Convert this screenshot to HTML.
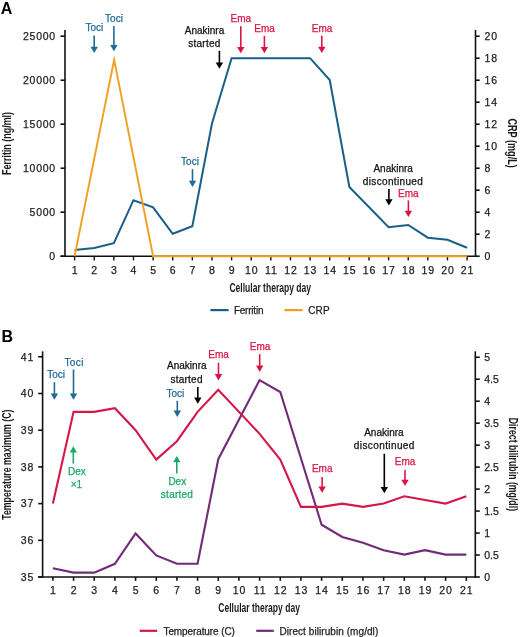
<!DOCTYPE html>
<html><head><meta charset="utf-8"><style>
html,body{margin:0;padding:0;background:#fff;}
svg{display:block;font-family:"Liberation Sans", sans-serif;will-change:transform;}
.ttl{fill:#1a1a1a;font-weight:bold;}
</style></head><body>
<svg width="520" height="637" viewBox="0 0 520 637">
<rect width="520" height="637" fill="#fff"/>
<text x="0.80" y="13.80" font-size="16" text-anchor="start" fill="#000" font-weight="bold">A</text>
<line x1="65.00" y1="30.00" x2="65.00" y2="257.00" stroke="#111" stroke-width="1.6"/>
<line x1="475.50" y1="30.00" x2="475.50" y2="257.00" stroke="#111" stroke-width="1.6"/>
<line x1="60.50" y1="256.20" x2="476.30" y2="256.20" stroke="#111" stroke-width="1.6"/>
<line x1="60.50" y1="256.20" x2="65.00" y2="256.20" stroke="#111" stroke-width="1.6"/>
<text x="55.20" y="260.00" font-size="10.5" text-anchor="end" fill="#222" font-weight="normal" stroke="#222" stroke-width="0.25">0</text>
<line x1="60.50" y1="212.20" x2="65.00" y2="212.20" stroke="#111" stroke-width="1.6"/>
<text x="55.20" y="216.00" font-size="10.5" text-anchor="end" fill="#222" font-weight="normal" stroke="#222" stroke-width="0.25" textLength="25.61" lengthAdjust="spacing">5000</text>
<line x1="60.50" y1="168.20" x2="65.00" y2="168.20" stroke="#111" stroke-width="1.6"/>
<text x="55.20" y="172.00" font-size="10.5" text-anchor="end" fill="#222" font-weight="normal" stroke="#222" stroke-width="0.25" textLength="32.20" lengthAdjust="spacing">10000</text>
<line x1="60.50" y1="124.20" x2="65.00" y2="124.20" stroke="#111" stroke-width="1.6"/>
<text x="55.20" y="128.00" font-size="10.5" text-anchor="end" fill="#222" font-weight="normal" stroke="#222" stroke-width="0.25" textLength="32.20" lengthAdjust="spacing">15000</text>
<line x1="60.50" y1="80.20" x2="65.00" y2="80.20" stroke="#111" stroke-width="1.6"/>
<text x="55.20" y="84.00" font-size="10.5" text-anchor="end" fill="#222" font-weight="normal" stroke="#222" stroke-width="0.25" textLength="32.20" lengthAdjust="spacing">20000</text>
<line x1="60.50" y1="36.20" x2="65.00" y2="36.20" stroke="#111" stroke-width="1.6"/>
<text x="55.20" y="40.00" font-size="10.5" text-anchor="end" fill="#222" font-weight="normal" stroke="#222" stroke-width="0.25" textLength="32.20" lengthAdjust="spacing">25000</text>
<line x1="475.50" y1="256.20" x2="479.70" y2="256.20" stroke="#111" stroke-width="1.6"/>
<text x="484.60" y="260.00" font-size="10.5" text-anchor="start" fill="#222" font-weight="normal" stroke="#222" stroke-width="0.25">0</text>
<line x1="475.50" y1="234.20" x2="479.70" y2="234.20" stroke="#111" stroke-width="1.6"/>
<text x="484.60" y="238.00" font-size="10.5" text-anchor="start" fill="#222" font-weight="normal" stroke="#222" stroke-width="0.25">2</text>
<line x1="475.50" y1="212.20" x2="479.70" y2="212.20" stroke="#111" stroke-width="1.6"/>
<text x="484.60" y="216.00" font-size="10.5" text-anchor="start" fill="#222" font-weight="normal" stroke="#222" stroke-width="0.25">4</text>
<line x1="475.50" y1="190.20" x2="479.70" y2="190.20" stroke="#111" stroke-width="1.6"/>
<text x="484.60" y="194.00" font-size="10.5" text-anchor="start" fill="#222" font-weight="normal" stroke="#222" stroke-width="0.25">6</text>
<line x1="475.50" y1="168.20" x2="479.70" y2="168.20" stroke="#111" stroke-width="1.6"/>
<text x="484.60" y="172.00" font-size="10.5" text-anchor="start" fill="#222" font-weight="normal" stroke="#222" stroke-width="0.25">8</text>
<line x1="475.50" y1="146.20" x2="479.70" y2="146.20" stroke="#111" stroke-width="1.6"/>
<text x="484.60" y="150.00" font-size="10.5" text-anchor="start" fill="#222" font-weight="normal" stroke="#222" stroke-width="0.25" textLength="12.58" lengthAdjust="spacing">10</text>
<line x1="475.50" y1="124.20" x2="479.70" y2="124.20" stroke="#111" stroke-width="1.6"/>
<text x="484.60" y="128.00" font-size="10.5" text-anchor="start" fill="#222" font-weight="normal" stroke="#222" stroke-width="0.25" textLength="12.58" lengthAdjust="spacing">12</text>
<line x1="475.50" y1="102.20" x2="479.70" y2="102.20" stroke="#111" stroke-width="1.6"/>
<text x="484.60" y="106.00" font-size="10.5" text-anchor="start" fill="#222" font-weight="normal" stroke="#222" stroke-width="0.25" textLength="12.58" lengthAdjust="spacing">14</text>
<line x1="475.50" y1="80.20" x2="479.70" y2="80.20" stroke="#111" stroke-width="1.6"/>
<text x="484.60" y="84.00" font-size="10.5" text-anchor="start" fill="#222" font-weight="normal" stroke="#222" stroke-width="0.25" textLength="12.58" lengthAdjust="spacing">16</text>
<line x1="475.50" y1="58.20" x2="479.70" y2="58.20" stroke="#111" stroke-width="1.6"/>
<text x="484.60" y="62.00" font-size="10.5" text-anchor="start" fill="#222" font-weight="normal" stroke="#222" stroke-width="0.25" textLength="12.58" lengthAdjust="spacing">18</text>
<line x1="475.50" y1="36.20" x2="479.70" y2="36.20" stroke="#111" stroke-width="1.6"/>
<text x="484.60" y="40.00" font-size="10.5" text-anchor="start" fill="#222" font-weight="normal" stroke="#222" stroke-width="0.25" textLength="12.58" lengthAdjust="spacing">20</text>
<line x1="74.60" y1="256.20" x2="74.60" y2="260.40" stroke="#111" stroke-width="1.4"/>
<text x="74.60" y="273.50" font-size="10.5" text-anchor="middle" fill="#222" font-weight="normal" stroke="#222" stroke-width="0.25">1</text>
<line x1="94.22" y1="256.20" x2="94.22" y2="260.40" stroke="#111" stroke-width="1.4"/>
<text x="94.22" y="273.50" font-size="10.5" text-anchor="middle" fill="#222" font-weight="normal" stroke="#222" stroke-width="0.25">2</text>
<line x1="113.85" y1="256.20" x2="113.85" y2="260.40" stroke="#111" stroke-width="1.4"/>
<text x="113.85" y="273.50" font-size="10.5" text-anchor="middle" fill="#222" font-weight="normal" stroke="#222" stroke-width="0.25">3</text>
<line x1="133.47" y1="256.20" x2="133.47" y2="260.40" stroke="#111" stroke-width="1.4"/>
<text x="133.47" y="273.50" font-size="10.5" text-anchor="middle" fill="#222" font-weight="normal" stroke="#222" stroke-width="0.25">4</text>
<line x1="153.10" y1="256.20" x2="153.10" y2="260.40" stroke="#111" stroke-width="1.4"/>
<text x="153.10" y="273.50" font-size="10.5" text-anchor="middle" fill="#222" font-weight="normal" stroke="#222" stroke-width="0.25">5</text>
<line x1="172.72" y1="256.20" x2="172.72" y2="260.40" stroke="#111" stroke-width="1.4"/>
<text x="172.72" y="273.50" font-size="10.5" text-anchor="middle" fill="#222" font-weight="normal" stroke="#222" stroke-width="0.25">6</text>
<line x1="192.35" y1="256.20" x2="192.35" y2="260.40" stroke="#111" stroke-width="1.4"/>
<text x="192.35" y="273.50" font-size="10.5" text-anchor="middle" fill="#222" font-weight="normal" stroke="#222" stroke-width="0.25">7</text>
<line x1="211.97" y1="256.20" x2="211.97" y2="260.40" stroke="#111" stroke-width="1.4"/>
<text x="211.97" y="273.50" font-size="10.5" text-anchor="middle" fill="#222" font-weight="normal" stroke="#222" stroke-width="0.25">8</text>
<line x1="231.60" y1="256.20" x2="231.60" y2="260.40" stroke="#111" stroke-width="1.4"/>
<text x="231.60" y="273.50" font-size="10.5" text-anchor="middle" fill="#222" font-weight="normal" stroke="#222" stroke-width="0.25">9</text>
<line x1="251.22" y1="256.20" x2="251.22" y2="260.40" stroke="#111" stroke-width="1.4"/>
<text x="251.22" y="273.50" font-size="10.5" text-anchor="middle" fill="#222" font-weight="normal" stroke="#222" stroke-width="0.25" textLength="12.58" lengthAdjust="spacing">10</text>
<line x1="270.85" y1="256.20" x2="270.85" y2="260.40" stroke="#111" stroke-width="1.4"/>
<text x="270.85" y="273.50" font-size="10.5" text-anchor="middle" fill="#222" font-weight="normal" stroke="#222" stroke-width="0.25" textLength="11.80" lengthAdjust="spacing">11</text>
<line x1="290.48" y1="256.20" x2="290.48" y2="260.40" stroke="#111" stroke-width="1.4"/>
<text x="290.48" y="273.50" font-size="10.5" text-anchor="middle" fill="#222" font-weight="normal" stroke="#222" stroke-width="0.25" textLength="12.58" lengthAdjust="spacing">12</text>
<line x1="310.10" y1="256.20" x2="310.10" y2="260.40" stroke="#111" stroke-width="1.4"/>
<text x="310.10" y="273.50" font-size="10.5" text-anchor="middle" fill="#222" font-weight="normal" stroke="#222" stroke-width="0.25" textLength="12.58" lengthAdjust="spacing">13</text>
<line x1="329.73" y1="256.20" x2="329.73" y2="260.40" stroke="#111" stroke-width="1.4"/>
<text x="329.73" y="273.50" font-size="10.5" text-anchor="middle" fill="#222" font-weight="normal" stroke="#222" stroke-width="0.25" textLength="12.58" lengthAdjust="spacing">14</text>
<line x1="349.35" y1="256.20" x2="349.35" y2="260.40" stroke="#111" stroke-width="1.4"/>
<text x="349.35" y="273.50" font-size="10.5" text-anchor="middle" fill="#222" font-weight="normal" stroke="#222" stroke-width="0.25" textLength="12.58" lengthAdjust="spacing">15</text>
<line x1="368.98" y1="256.20" x2="368.98" y2="260.40" stroke="#111" stroke-width="1.4"/>
<text x="368.98" y="273.50" font-size="10.5" text-anchor="middle" fill="#222" font-weight="normal" stroke="#222" stroke-width="0.25" textLength="12.58" lengthAdjust="spacing">16</text>
<line x1="388.60" y1="256.20" x2="388.60" y2="260.40" stroke="#111" stroke-width="1.4"/>
<text x="388.60" y="273.50" font-size="10.5" text-anchor="middle" fill="#222" font-weight="normal" stroke="#222" stroke-width="0.25" textLength="12.58" lengthAdjust="spacing">17</text>
<line x1="408.23" y1="256.20" x2="408.23" y2="260.40" stroke="#111" stroke-width="1.4"/>
<text x="408.23" y="273.50" font-size="10.5" text-anchor="middle" fill="#222" font-weight="normal" stroke="#222" stroke-width="0.25" textLength="12.58" lengthAdjust="spacing">18</text>
<line x1="427.85" y1="256.20" x2="427.85" y2="260.40" stroke="#111" stroke-width="1.4"/>
<text x="427.85" y="273.50" font-size="10.5" text-anchor="middle" fill="#222" font-weight="normal" stroke="#222" stroke-width="0.25" textLength="12.58" lengthAdjust="spacing">19</text>
<line x1="447.48" y1="256.20" x2="447.48" y2="260.40" stroke="#111" stroke-width="1.4"/>
<text x="447.48" y="273.50" font-size="10.5" text-anchor="middle" fill="#222" font-weight="normal" stroke="#222" stroke-width="0.25" textLength="12.58" lengthAdjust="spacing">20</text>
<line x1="467.10" y1="256.20" x2="467.10" y2="260.40" stroke="#111" stroke-width="1.4"/>
<text x="467.10" y="273.50" font-size="10.5" text-anchor="middle" fill="#222" font-weight="normal" stroke="#222" stroke-width="0.25" textLength="12.58" lengthAdjust="spacing">21</text>
<text x="270.2" y="291.8" font-size="13" text-anchor="middle" class="ttl" textLength="81.6" lengthAdjust="spacingAndGlyphs">Cellular therapy day</text>
<text transform="translate(11.3,143.45) rotate(-90)" font-size="13" text-anchor="middle" class="ttl" textLength="63" lengthAdjust="spacingAndGlyphs">Ferritin (ng/ml)</text>
<text transform="translate(508.3,143.1) rotate(90)" font-size="13" text-anchor="middle" class="ttl" textLength="49.4" lengthAdjust="spacingAndGlyphs">CRP (mg/L)</text>
<polyline points="74.60,250.00 94.22,248.00 113.85,243.10 133.47,200.20 153.10,207.30 172.72,233.80 192.35,226.30 211.97,123.50 231.60,58.20 251.22,58.20 270.85,58.20 290.48,58.20 310.10,58.20 329.73,80.00 349.35,186.90 388.60,227.30 408.23,225.00 427.85,237.70 447.48,239.80 467.10,247.80" fill="none" stroke="#1a5f86" stroke-width="2.0" stroke-linejoin="miter" stroke-miterlimit="4"/>
<polyline points="74.60,256.20 114.15,59.85 153.10,256.20 467.10,256.20" fill="none" stroke="#f0a020" stroke-width="1.9" stroke-linejoin="miter" stroke-miterlimit="10"/>
<text x="94.40" y="31.40" font-size="10" text-anchor="middle" fill="#1f6a96" font-weight="normal" stroke="#1f6a96" stroke-width="0.25">Toci</text>
<line x1="94.20" y1="35.60" x2="94.20" y2="47.30" stroke="#1f6a96" stroke-width="1.6"/>
<polygon points="90.50,46.80 97.90,46.80 94.20,53.10" fill="#1f6a96"/>
<text x="114.00" y="22.10" font-size="10" text-anchor="middle" fill="#1f6a96" font-weight="normal" stroke="#1f6a96" stroke-width="0.25">Toci</text>
<line x1="113.90" y1="26.00" x2="113.90" y2="45.40" stroke="#1f6a96" stroke-width="1.6"/>
<polygon points="110.20,44.90 117.60,44.90 113.90,51.20" fill="#1f6a96"/>
<text x="204.50" y="33.70" font-size="10" text-anchor="middle" fill="#111" font-weight="normal" stroke="#111" stroke-width="0.25">Anakinra</text>
<text x="204.30" y="47.10" font-size="10" text-anchor="middle" fill="#111" font-weight="normal" stroke="#111" stroke-width="0.25" textLength="32.07" lengthAdjust="spacing">started</text>
<line x1="219.40" y1="50.80" x2="219.40" y2="62.90" stroke="#000" stroke-width="1.6"/>
<polygon points="215.70,62.40 223.10,62.40 219.40,68.70" fill="#000"/>
<text x="240.80" y="22.30" font-size="10" text-anchor="middle" fill="#dc1443" font-weight="normal" stroke="#dc1443" stroke-width="0.25">Ema</text>
<line x1="240.80" y1="26.30" x2="240.80" y2="47.40" stroke="#dc1443" stroke-width="1.6"/>
<polygon points="237.10,46.90 244.50,46.90 240.80,53.20" fill="#dc1443"/>
<text x="264.60" y="32.10" font-size="10" text-anchor="middle" fill="#dc1443" font-weight="normal" stroke="#dc1443" stroke-width="0.25">Ema</text>
<line x1="264.40" y1="35.90" x2="264.40" y2="47.40" stroke="#dc1443" stroke-width="1.6"/>
<polygon points="260.70,46.90 268.10,46.90 264.40,53.20" fill="#dc1443"/>
<text x="322.00" y="31.80" font-size="10" text-anchor="middle" fill="#dc1443" font-weight="normal" stroke="#dc1443" stroke-width="0.25">Ema</text>
<line x1="321.80" y1="35.80" x2="321.80" y2="47.20" stroke="#dc1443" stroke-width="1.6"/>
<polygon points="318.10,46.70 325.50,46.70 321.80,53.00" fill="#dc1443"/>
<text x="190.00" y="165.20" font-size="10" text-anchor="middle" fill="#1f6a96" font-weight="normal" stroke="#1f6a96" stroke-width="0.25">Toci</text>
<line x1="192.50" y1="169.20" x2="192.50" y2="181.20" stroke="#1f6a96" stroke-width="1.6"/>
<polygon points="188.80,180.70 196.20,180.70 192.50,187.00" fill="#1f6a96"/>
<text x="393.20" y="171.60" font-size="10" text-anchor="middle" fill="#111" font-weight="normal" stroke="#111" stroke-width="0.25">Anakinra</text>
<text x="392.80" y="184.60" font-size="10" text-anchor="middle" fill="#111" font-weight="normal" stroke="#111" stroke-width="0.25" textLength="60.00" lengthAdjust="spacing">discontinued</text>
<line x1="388.90" y1="188.90" x2="388.90" y2="199.70" stroke="#000" stroke-width="1.6"/>
<polygon points="385.20,199.20 392.60,199.20 388.90,205.50" fill="#000"/>
<text x="408.40" y="197.10" font-size="10" text-anchor="middle" fill="#dc1443" font-weight="normal" stroke="#dc1443" stroke-width="0.25">Ema</text>
<line x1="408.40" y1="200.40" x2="408.40" y2="211.20" stroke="#dc1443" stroke-width="1.6"/>
<polygon points="404.70,210.70 412.10,210.70 408.40,217.00" fill="#dc1443"/>
<line x1="210.40" y1="310.10" x2="228.60" y2="310.10" stroke="#1a5f86" stroke-width="2.2"/>
<text x="233.90" y="313.70" font-size="10" text-anchor="start" fill="#222" font-weight="normal" stroke="#222" stroke-width="0.25" textLength="29.57" lengthAdjust="spacing">Ferritin</text>
<line x1="284.40" y1="310.10" x2="302.60" y2="310.10" stroke="#f0a020" stroke-width="2.2"/>
<text x="308.20" y="313.60" font-size="10" text-anchor="start" fill="#222" font-weight="normal" stroke="#222" stroke-width="0.25" textLength="21.51" lengthAdjust="spacing">CRP</text>
<text x="1.50" y="341.80" font-size="16" text-anchor="start" fill="#000" font-weight="bold">B</text>
<line x1="42.60" y1="351.30" x2="42.60" y2="577.80" stroke="#111" stroke-width="1.6"/>
<line x1="475.30" y1="351.30" x2="475.30" y2="577.80" stroke="#111" stroke-width="1.6"/>
<line x1="38.20" y1="577.00" x2="476.10" y2="577.00" stroke="#111" stroke-width="1.6"/>
<line x1="38.20" y1="577.00" x2="42.60" y2="577.00" stroke="#111" stroke-width="1.6"/>
<text x="33.40" y="580.80" font-size="10.5" text-anchor="end" fill="#222" font-weight="normal" stroke="#222" stroke-width="0.25" textLength="12.58" lengthAdjust="spacing">35</text>
<line x1="38.20" y1="540.30" x2="42.60" y2="540.30" stroke="#111" stroke-width="1.6"/>
<text x="33.40" y="544.10" font-size="10.5" text-anchor="end" fill="#222" font-weight="normal" stroke="#222" stroke-width="0.25" textLength="12.58" lengthAdjust="spacing">36</text>
<line x1="38.20" y1="503.60" x2="42.60" y2="503.60" stroke="#111" stroke-width="1.6"/>
<text x="33.40" y="507.40" font-size="10.5" text-anchor="end" fill="#222" font-weight="normal" stroke="#222" stroke-width="0.25" textLength="12.58" lengthAdjust="spacing">37</text>
<line x1="38.20" y1="466.90" x2="42.60" y2="466.90" stroke="#111" stroke-width="1.6"/>
<text x="33.40" y="470.70" font-size="10.5" text-anchor="end" fill="#222" font-weight="normal" stroke="#222" stroke-width="0.25" textLength="12.58" lengthAdjust="spacing">38</text>
<line x1="38.20" y1="430.20" x2="42.60" y2="430.20" stroke="#111" stroke-width="1.6"/>
<text x="33.40" y="434.00" font-size="10.5" text-anchor="end" fill="#222" font-weight="normal" stroke="#222" stroke-width="0.25" textLength="12.58" lengthAdjust="spacing">39</text>
<line x1="38.20" y1="393.50" x2="42.60" y2="393.50" stroke="#111" stroke-width="1.6"/>
<text x="33.40" y="397.30" font-size="10.5" text-anchor="end" fill="#222" font-weight="normal" stroke="#222" stroke-width="0.25" textLength="12.58" lengthAdjust="spacing">40</text>
<line x1="38.20" y1="356.80" x2="42.60" y2="356.80" stroke="#111" stroke-width="1.6"/>
<text x="33.40" y="360.60" font-size="10.5" text-anchor="end" fill="#222" font-weight="normal" stroke="#222" stroke-width="0.25" textLength="12.58" lengthAdjust="spacing">41</text>
<line x1="475.30" y1="577.00" x2="479.80" y2="577.00" stroke="#111" stroke-width="1.6"/>
<text x="484.20" y="580.80" font-size="10.5" text-anchor="start" fill="#222" font-weight="normal" stroke="#222" stroke-width="0.25">0</text>
<line x1="475.30" y1="555.02" x2="479.80" y2="555.02" stroke="#111" stroke-width="1.6"/>
<text x="484.20" y="558.82" font-size="10.5" text-anchor="start" fill="#222" font-weight="normal" stroke="#222" stroke-width="0.25">0.5</text>
<line x1="475.30" y1="533.05" x2="479.80" y2="533.05" stroke="#111" stroke-width="1.6"/>
<text x="484.20" y="536.85" font-size="10.5" text-anchor="start" fill="#222" font-weight="normal" stroke="#222" stroke-width="0.25">1</text>
<line x1="475.30" y1="511.07" x2="479.80" y2="511.07" stroke="#111" stroke-width="1.6"/>
<text x="484.20" y="514.88" font-size="10.5" text-anchor="start" fill="#222" font-weight="normal" stroke="#222" stroke-width="0.25">1.5</text>
<line x1="475.30" y1="489.10" x2="479.80" y2="489.10" stroke="#111" stroke-width="1.6"/>
<text x="484.20" y="492.90" font-size="10.5" text-anchor="start" fill="#222" font-weight="normal" stroke="#222" stroke-width="0.25">2</text>
<line x1="475.30" y1="467.12" x2="479.80" y2="467.12" stroke="#111" stroke-width="1.6"/>
<text x="484.20" y="470.93" font-size="10.5" text-anchor="start" fill="#222" font-weight="normal" stroke="#222" stroke-width="0.25">2.5</text>
<line x1="475.30" y1="445.15" x2="479.80" y2="445.15" stroke="#111" stroke-width="1.6"/>
<text x="484.20" y="448.95" font-size="10.5" text-anchor="start" fill="#222" font-weight="normal" stroke="#222" stroke-width="0.25">3</text>
<line x1="475.30" y1="423.17" x2="479.80" y2="423.17" stroke="#111" stroke-width="1.6"/>
<text x="484.20" y="426.97" font-size="10.5" text-anchor="start" fill="#222" font-weight="normal" stroke="#222" stroke-width="0.25">3.5</text>
<line x1="475.30" y1="401.20" x2="479.80" y2="401.20" stroke="#111" stroke-width="1.6"/>
<text x="484.20" y="405.00" font-size="10.5" text-anchor="start" fill="#222" font-weight="normal" stroke="#222" stroke-width="0.25">4</text>
<line x1="475.30" y1="379.23" x2="479.80" y2="379.23" stroke="#111" stroke-width="1.6"/>
<text x="484.20" y="383.03" font-size="10.5" text-anchor="start" fill="#222" font-weight="normal" stroke="#222" stroke-width="0.25">4.5</text>
<line x1="475.30" y1="357.25" x2="479.80" y2="357.25" stroke="#111" stroke-width="1.6"/>
<text x="484.20" y="361.05" font-size="10.5" text-anchor="start" fill="#222" font-weight="normal" stroke="#222" stroke-width="0.25">5</text>
<line x1="52.90" y1="577.00" x2="52.90" y2="580.80" stroke="#111" stroke-width="1.6"/>
<text x="52.90" y="593.60" font-size="10.5" text-anchor="middle" fill="#222" font-weight="normal" stroke="#222" stroke-width="0.25">1</text>
<line x1="73.57" y1="577.00" x2="73.57" y2="580.80" stroke="#111" stroke-width="1.6"/>
<text x="73.57" y="593.60" font-size="10.5" text-anchor="middle" fill="#222" font-weight="normal" stroke="#222" stroke-width="0.25">2</text>
<line x1="94.24" y1="577.00" x2="94.24" y2="580.80" stroke="#111" stroke-width="1.6"/>
<text x="94.24" y="593.60" font-size="10.5" text-anchor="middle" fill="#222" font-weight="normal" stroke="#222" stroke-width="0.25">3</text>
<line x1="114.91" y1="577.00" x2="114.91" y2="580.80" stroke="#111" stroke-width="1.6"/>
<text x="114.91" y="593.60" font-size="10.5" text-anchor="middle" fill="#222" font-weight="normal" stroke="#222" stroke-width="0.25">4</text>
<line x1="135.58" y1="577.00" x2="135.58" y2="580.80" stroke="#111" stroke-width="1.6"/>
<text x="135.58" y="593.60" font-size="10.5" text-anchor="middle" fill="#222" font-weight="normal" stroke="#222" stroke-width="0.25">5</text>
<line x1="156.25" y1="577.00" x2="156.25" y2="580.80" stroke="#111" stroke-width="1.6"/>
<text x="156.25" y="593.60" font-size="10.5" text-anchor="middle" fill="#222" font-weight="normal" stroke="#222" stroke-width="0.25">6</text>
<line x1="176.92" y1="577.00" x2="176.92" y2="580.80" stroke="#111" stroke-width="1.6"/>
<text x="176.92" y="593.60" font-size="10.5" text-anchor="middle" fill="#222" font-weight="normal" stroke="#222" stroke-width="0.25">7</text>
<line x1="197.59" y1="577.00" x2="197.59" y2="580.80" stroke="#111" stroke-width="1.6"/>
<text x="197.59" y="593.60" font-size="10.5" text-anchor="middle" fill="#222" font-weight="normal" stroke="#222" stroke-width="0.25">8</text>
<line x1="218.26" y1="577.00" x2="218.26" y2="580.80" stroke="#111" stroke-width="1.6"/>
<text x="218.26" y="593.60" font-size="10.5" text-anchor="middle" fill="#222" font-weight="normal" stroke="#222" stroke-width="0.25">9</text>
<line x1="238.93" y1="577.00" x2="238.93" y2="580.80" stroke="#111" stroke-width="1.6"/>
<text x="238.93" y="593.60" font-size="10.5" text-anchor="middle" fill="#222" font-weight="normal" stroke="#222" stroke-width="0.25" textLength="12.58" lengthAdjust="spacing">10</text>
<line x1="259.60" y1="577.00" x2="259.60" y2="580.80" stroke="#111" stroke-width="1.6"/>
<text x="259.60" y="593.60" font-size="10.5" text-anchor="middle" fill="#222" font-weight="normal" stroke="#222" stroke-width="0.25" textLength="11.80" lengthAdjust="spacing">11</text>
<line x1="280.27" y1="577.00" x2="280.27" y2="580.80" stroke="#111" stroke-width="1.6"/>
<text x="280.27" y="593.60" font-size="10.5" text-anchor="middle" fill="#222" font-weight="normal" stroke="#222" stroke-width="0.25" textLength="12.58" lengthAdjust="spacing">12</text>
<line x1="300.94" y1="577.00" x2="300.94" y2="580.80" stroke="#111" stroke-width="1.6"/>
<text x="300.94" y="593.60" font-size="10.5" text-anchor="middle" fill="#222" font-weight="normal" stroke="#222" stroke-width="0.25" textLength="12.58" lengthAdjust="spacing">13</text>
<line x1="321.61" y1="577.00" x2="321.61" y2="580.80" stroke="#111" stroke-width="1.6"/>
<text x="321.61" y="593.60" font-size="10.5" text-anchor="middle" fill="#222" font-weight="normal" stroke="#222" stroke-width="0.25" textLength="12.58" lengthAdjust="spacing">14</text>
<line x1="342.28" y1="577.00" x2="342.28" y2="580.80" stroke="#111" stroke-width="1.6"/>
<text x="342.28" y="593.60" font-size="10.5" text-anchor="middle" fill="#222" font-weight="normal" stroke="#222" stroke-width="0.25" textLength="12.58" lengthAdjust="spacing">15</text>
<line x1="362.95" y1="577.00" x2="362.95" y2="580.80" stroke="#111" stroke-width="1.6"/>
<text x="362.95" y="593.60" font-size="10.5" text-anchor="middle" fill="#222" font-weight="normal" stroke="#222" stroke-width="0.25" textLength="12.58" lengthAdjust="spacing">16</text>
<line x1="383.62" y1="577.00" x2="383.62" y2="580.80" stroke="#111" stroke-width="1.6"/>
<text x="383.62" y="593.60" font-size="10.5" text-anchor="middle" fill="#222" font-weight="normal" stroke="#222" stroke-width="0.25" textLength="12.58" lengthAdjust="spacing">17</text>
<line x1="404.29" y1="577.00" x2="404.29" y2="580.80" stroke="#111" stroke-width="1.6"/>
<text x="404.29" y="593.60" font-size="10.5" text-anchor="middle" fill="#222" font-weight="normal" stroke="#222" stroke-width="0.25" textLength="12.58" lengthAdjust="spacing">18</text>
<line x1="424.96" y1="577.00" x2="424.96" y2="580.80" stroke="#111" stroke-width="1.6"/>
<text x="424.96" y="593.60" font-size="10.5" text-anchor="middle" fill="#222" font-weight="normal" stroke="#222" stroke-width="0.25" textLength="12.58" lengthAdjust="spacing">19</text>
<line x1="445.63" y1="577.00" x2="445.63" y2="580.80" stroke="#111" stroke-width="1.6"/>
<text x="445.63" y="593.60" font-size="10.5" text-anchor="middle" fill="#222" font-weight="normal" stroke="#222" stroke-width="0.25" textLength="12.58" lengthAdjust="spacing">20</text>
<line x1="466.30" y1="577.00" x2="466.30" y2="580.80" stroke="#111" stroke-width="1.6"/>
<text x="466.30" y="593.60" font-size="10.5" text-anchor="middle" fill="#222" font-weight="normal" stroke="#222" stroke-width="0.25" textLength="12.58" lengthAdjust="spacing">21</text>
<text x="259.1" y="612.2" font-size="13" text-anchor="middle" class="ttl" textLength="81.6" lengthAdjust="spacingAndGlyphs">Cellular therapy day</text>
<text transform="translate(11.1,464.7) rotate(-90)" font-size="13" text-anchor="middle" class="ttl" textLength="110.2" lengthAdjust="spacingAndGlyphs">Temperature maximum (C)</text>
<text transform="translate(508.7,464.4) rotate(90)" font-size="13" text-anchor="middle" class="ttl" textLength="93.3" lengthAdjust="spacingAndGlyphs">Direct bilirubin (mg/dl)</text>
<polyline points="52.90,568.21 73.57,572.61 94.24,572.61 114.91,563.82 135.58,533.49 156.25,555.46 176.92,563.82 197.59,563.82 218.26,459.21 259.60,380.10 280.27,391.97 321.61,524.70 342.28,537.01 362.95,542.72 383.62,550.19 404.29,554.59 424.96,550.19 445.63,554.59 466.30,554.59" fill="none" stroke="#722a7a" stroke-width="2.1" stroke-linejoin="miter" stroke-miterlimit="4"/>
<polyline points="52.90,503.60 73.57,411.85 94.24,411.85 114.91,408.18 135.58,430.20 156.25,459.56 176.92,441.21 197.59,411.85 218.26,389.83 259.60,433.87 280.27,459.56 300.94,506.90 321.61,506.90 342.28,503.60 362.95,506.90 383.62,503.60 404.29,496.26 424.96,499.93 445.63,503.60 466.30,496.26" fill="none" stroke="#d41848" stroke-width="2.1" stroke-linejoin="miter" stroke-miterlimit="4"/>
<text x="56.20" y="377.50" font-size="10" text-anchor="middle" fill="#1f6a96" font-weight="normal" stroke="#1f6a96" stroke-width="0.25">Toci</text>
<line x1="54.40" y1="382.20" x2="54.40" y2="394.00" stroke="#1f6a96" stroke-width="1.6"/>
<polygon points="50.70,393.50 58.10,393.50 54.40,399.80" fill="#1f6a96"/>
<text x="73.90" y="365.50" font-size="10" text-anchor="middle" fill="#1f6a96" font-weight="normal" stroke="#1f6a96" stroke-width="0.25" textLength="18.98" lengthAdjust="spacing">Toci</text>
<line x1="73.50" y1="369.50" x2="73.50" y2="394.00" stroke="#1f6a96" stroke-width="1.6"/>
<polygon points="69.80,393.50 77.20,393.50 73.50,399.80" fill="#1f6a96"/>
<line x1="73.30" y1="452.00" x2="73.30" y2="463.60" stroke="#1aaa66" stroke-width="1.6"/>
<polygon points="69.60,452.50 77.00,452.50 73.30,446.20" fill="#1aaa66"/>
<text x="76.90" y="474.60" font-size="10" text-anchor="middle" fill="#1aaa66" font-weight="normal" stroke="#1aaa66" stroke-width="0.25">Dex</text>
<text x="76.40" y="488.00" font-size="10" text-anchor="middle" fill="#1aaa66" font-weight="normal" stroke="#1aaa66" stroke-width="0.25">×1</text>
<line x1="176.80" y1="461.70" x2="176.80" y2="473.50" stroke="#1aaa66" stroke-width="1.6"/>
<polygon points="173.10,462.20 180.50,462.20 176.80,455.90" fill="#1aaa66"/>
<text x="177.30" y="484.80" font-size="10" text-anchor="middle" fill="#1aaa66" font-weight="normal" stroke="#1aaa66" stroke-width="0.25">Dex</text>
<text x="176.90" y="498.30" font-size="10" text-anchor="middle" fill="#1aaa66" font-weight="normal" stroke="#1aaa66" stroke-width="0.25" textLength="32.07" lengthAdjust="spacing">started</text>
<text x="175.40" y="396.50" font-size="10" text-anchor="middle" fill="#1f6a96" font-weight="normal" stroke="#1f6a96" stroke-width="0.25">Toci</text>
<line x1="177.30" y1="400.80" x2="177.30" y2="411.10" stroke="#1f6a96" stroke-width="1.6"/>
<polygon points="173.60,410.60 181.00,410.60 177.30,416.90" fill="#1f6a96"/>
<text x="186.80" y="369.20" font-size="10" text-anchor="middle" fill="#111" font-weight="normal" stroke="#111" stroke-width="0.25">Anakinra</text>
<text x="186.50" y="382.60" font-size="10" text-anchor="middle" fill="#111" font-weight="normal" stroke="#111" stroke-width="0.25" textLength="31.89" lengthAdjust="spacing">started</text>
<line x1="197.80" y1="386.90" x2="197.80" y2="398.00" stroke="#000" stroke-width="1.6"/>
<polygon points="194.10,397.50 201.50,397.50 197.80,403.80" fill="#000"/>
<text x="218.50" y="357.80" font-size="10" text-anchor="middle" fill="#dc1443" font-weight="normal" stroke="#dc1443" stroke-width="0.25">Ema</text>
<line x1="218.50" y1="362.70" x2="218.50" y2="374.60" stroke="#dc1443" stroke-width="1.6"/>
<polygon points="214.80,374.10 222.20,374.10 218.50,380.40" fill="#dc1443"/>
<text x="260.00" y="350.40" font-size="10" text-anchor="middle" fill="#dc1443" font-weight="normal" stroke="#dc1443" stroke-width="0.25">Ema</text>
<line x1="259.70" y1="354.20" x2="259.70" y2="366.10" stroke="#dc1443" stroke-width="1.6"/>
<polygon points="256.00,365.60 263.40,365.60 259.70,371.90" fill="#dc1443"/>
<text x="322.20" y="471.70" font-size="10" text-anchor="middle" fill="#dc1443" font-weight="normal" stroke="#dc1443" stroke-width="0.25">Ema</text>
<line x1="322.10" y1="477.10" x2="322.10" y2="486.90" stroke="#dc1443" stroke-width="1.6"/>
<polygon points="318.40,486.40 325.80,486.40 322.10,492.70" fill="#dc1443"/>
<text x="383.90" y="435.60" font-size="10" text-anchor="middle" fill="#111" font-weight="normal" stroke="#111" stroke-width="0.25">Anakinra</text>
<text x="384.10" y="449.00" font-size="10" text-anchor="middle" fill="#111" font-weight="normal" stroke="#111" stroke-width="0.25" textLength="60.55" lengthAdjust="spacing">discontinued</text>
<line x1="384.30" y1="453.70" x2="384.30" y2="487.40" stroke="#000" stroke-width="1.6"/>
<polygon points="380.60,486.90 388.00,486.90 384.30,493.20" fill="#000"/>
<text x="405.00" y="465.00" font-size="10" text-anchor="middle" fill="#dc1443" font-weight="normal" stroke="#dc1443" stroke-width="0.25">Ema</text>
<line x1="405.00" y1="469.80" x2="405.00" y2="480.20" stroke="#dc1443" stroke-width="1.6"/>
<polygon points="401.30,479.70 408.70,479.70 405.00,486.00" fill="#dc1443"/>
<line x1="139.70" y1="630.80" x2="157.20" y2="630.80" stroke="#d41848" stroke-width="2.2"/>
<text x="163.50" y="635.00" font-size="10" text-anchor="start" fill="#222" font-weight="normal" stroke="#222" stroke-width="0.25" textLength="71.40" lengthAdjust="spacing">Temperature (C)</text>
<line x1="256.20" y1="630.80" x2="273.80" y2="630.80" stroke="#722a7a" stroke-width="2.2"/>
<text x="279.40" y="634.60" font-size="10" text-anchor="start" fill="#222" font-weight="normal" stroke="#222" stroke-width="0.25" textLength="98.86" lengthAdjust="spacing">Direct bilirubin (mg/dl)</text>
</svg>
</body></html>
